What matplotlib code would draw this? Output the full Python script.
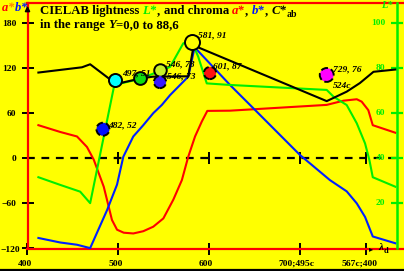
import matplotlib
matplotlib.use("Agg")
import matplotlib.pyplot as plt
import matplotlib.transforms as mtransforms

# pseudo wavelength axis: 400..700 nm, then compensative colours 495c..567c
x_ticks = [400, 500, 600, 700, 772.5]
x_ticklabels = ["400", "500", "600", "700;495c", "567c;400"]
y_ticks = [-120, -60, 0, 60, 120, 180]
L_ticks = [20, 40, 60, 80, 100]

# chroma C*ab
c_x = [412, 460, 469, 493, 502, 524, 538, 577, 583, 729.5, 751.5, 766, 781, 805]
c_val = [114, 121, 125, 103, 100, 106, 108.5, 109, 150, 76, 88.6, 100, 115, 118]

# a*
a_x = [412, 436, 454.5, 465.5, 473, 484, 493, 498.6, 506, 516.5, 527.5, 538.5,
       549.6, 560.6, 570, 577, 584.5, 592, 598, 623, 729.5, 748, 762.6, 768,
       775.3, 780.2, 805]
a_val = [44, 35, 29, 15, -2, -38, -82, -95, -99, -100, -97, -91,
         -80, -55, -29, 2, 29, 49, 63, 63.3, 71, 76.6, 78.5, 75.3,
         64, 44, 34]

# b*
b_x = [412, 436, 454.5, 469, 487.6, 498.6, 505.5, 516.5, 527.5, 538.5, 548,
       557, 568, 577, 583.4, 584.5, 623, 648.7, 700, 733, 751.5, 762.6,
       771.7, 780.2, 805]
b_val = [-106, -112, -115, -119.5, -69, -35, 2, 29, 44, 60, 71,
         84, 97.5, 108.5, 144, 147, 97.5, 66.5, 4.4, -29, -44, -60,
         -78, -104, -113]

# lightness L*
L_x = [412, 436, 458, 469, 495.6, 524, 557, 571.6, 581.2, 588, 597.4, 623,
       729.5, 737, 751.5, 762.6, 771.7, 776.5, 780.2, 805]
L_val = [31.6, 28.2, 25.2, 20.1, 72.5, 75.2, 80.5, 91, 91.5, 85, 73.2, 72.5,
         70.3, 67.3, 63.6, 55.5, 46.6, 39.2, 31.6, 27.4]

# colour samples
s_x = [496.9, 523.9, 545.9, 545.9, 581.5, 601, 483.1, 729.5]
s_y = [104, 106.8, 117.4, 101.4, 154.3, 113.4, 38.6, 110.8]
s_col = ["#00ffff", "#10dd10", "#c8f028", "#3818ff", "#ffff00", "#ff1010",
         "#0010ff", "#ff00ff"]
s_dashed = [False, False, False, True, False, True, True, True]
s_size = [9.4, 9.2, 9.0, 8.8, 10.8, 8.8, 9.4, 10.0]

labels = [("497, 51", 122, 73), ("546, 78", 166, 64), ("546, 73", 167, 76),
          ("581, 91", 198, 35), ("601, 87", 213, 66), ("482, 52", 108, 125),
          ("729, 76", 333, 69), ("524c", 333, 86)]

W, H = 404, 271
YEL = "#ffff00"
GRN = "#00ee00"
SERIF = "Liberation Serif"


def L_to_a(v):
    return 3 * (v - 40)


fig = plt.figure(figsize=(W / 100, H / 100), dpi=100, facecolor=YEL)
ax = fig.add_axes([27.5 / W, (H - 248.5) / H, (W - 27.5) / W, 245.5 / H])
ax.set_facecolor(YEL)
ax.set_xlim(400, 814.6)
ax.set_ylim(-120, 206.5)
for side in ["left", "bottom", "top"]:
    ax.spines[side].set_color("red")
    ax.spines[side].set_linewidth(1.6)
ax.spines["right"].set_visible(False)

ax.set_xticks(x_ticks)
ax.set_xticklabels([])
ax.set_yticks(y_ticks)
ax.set_yticklabels([str(v).replace("-", "\u2212") for v in y_ticks],
                   fontfamily=SERIF, fontweight="bold", fontsize=6.8)
ax.tick_params(axis="both", direction="inout", length=8, width=1.4, color="black")
ax.tick_params(axis="y", pad=4)
for lab in ax.get_yticklabels():
    if lab.get_text().startswith("\u2212120"):
        lab.set_transform(lab.get_transform() + mtransforms.ScaledTranslation(4 / 100, 0, fig.dpi_scale_trans))

# x labels placed by hand below the axis
for xv, s in zip(x_ticks, x_ticklabels):
    dx = -3 if xv < 770 else -6
    t = ax.text(xv, 0, s, transform=mtransforms.blended_transform_factory(ax.transData, ax.transAxes)
                + mtransforms.ScaledTranslation(dx / 100, -15 / 100, fig.dpi_scale_trans),
                ha="center", va="center", fontfamily=SERIF, fontweight="bold", fontsize=6.8)

# zero line with ticks
ax.plot([400, 806.9], [0, 0], color="black", lw=1.6, ls=(0, (3.5, 3)), zorder=2)
ax.plot(x_ticks[1:], [0] * 4, ls="none", marker="|", ms=8, mew=1.4, color="black", zorder=2)

# curves
ax.plot(a_x, a_val, color="red", lw=1.5, zorder=3)
ax.plot(b_x, b_val, color="#0020ff", lw=1.5, zorder=3)
ax.plot(L_x, [L_to_a(v) for v in L_val], color=GRN, lw=1.5, zorder=3)
ax.plot(c_x, c_val, color="black", lw=1.5, zorder=4)

# samples
for x, y, c, d, s in zip(s_x, s_y, s_col, s_dashed, s_size):
    ax.scatter([x], [y], s=s ** 2, c=c, edgecolors="black",
               linewidths=1.4, linestyle="--" if d else "-", zorder=5)

for s, px, py in labels:
    fig.text(px / W, 1 - py / H, s, fontfamily=SERIF, fontweight="bold",
             style="italic", fontsize=6.8, va="center", zorder=6)

# green L* axis
gx = 806.9
ax.plot([gx, gx], [-120, 206.5], color=GRN, lw=1.8, clip_on=False, zorder=3)
ax.plot([gx] * len(L_ticks), [L_to_a(v) for v in L_ticks], ls="none", marker="_",
        ms=8, mew=1.6, color=GRN, clip_on=False, zorder=3)
for v in L_ticks:
    ax.text(gx, L_to_a(v), str(v), color=GRN, fontfamily=SERIF, fontweight="bold",
            fontsize=6.8, ha="right", va="center",
            transform=ax.transData + mtransforms.ScaledTranslation(-12 / 100, 0, fig.dpi_scale_trans))
fig.text(381 / W, 1 - 5 / H, "L*", color=GRN, fontfamily=SERIF, fontweight="bold",
         style="italic", fontsize=7.5, va="center")

# left arrow
ax.annotate("", xy=(0, 1.0), xytext=(0, 0.96), xycoords="axes fraction",
            arrowprops=dict(arrowstyle="-|>", color="black", lw=1.2, mutation_scale=7))

# lambda_d marker
fig.text(369 / W, 1 - 249 / H, "\u25B8", fontsize=6, va="center", color="black")
fig.text(378 / W, 1 - 248 / H, "\u03bb", fontfamily=SERIF, style="italic",
         fontweight="bold", fontsize=8, va="center")
fig.text(384 / W, 1 - 251 / H, "d", fontfamily=SERIF, fontweight="bold",
         fontsize=6, va="center")

# bottom border line
fig.add_artist(plt.Line2D([0, 1], [1.2 / H, 1.2 / H], color="black", lw=1.6,
                          transform=fig.transFigure))

renderer = fig.canvas.get_renderer()


def put_parts(x_px, y_px, parts, size):
    # parts: text, colour, style, baseline shift, size, gap after (px)
    x = x_px
    for s, col, st, dy, sz, gap in parts:
        t = fig.text(x / W, 1 - (y_px + dy) / H, s, color=col, style=st,
                     fontfamily=SERIF, fontweight="bold", fontsize=sz or size,
                     va="baseline")
        bb = t.get_window_extent(renderer)
        x += bb.width + gap


put_parts(2, 11, [("a", "red", "italic", 0, None, 0), ("*", "#ff8000", "italic", 0, None, 0),
                  ("b", "#0010ff", "italic", 0, None, 0), ("*", "#0010ff", "italic", 0, None, 0)], 9)

sp = 3.2
put_parts(40, 14, [("CIELAB lightness", "black", "normal", 0, None, sp),
                   ("L*", GRN, "italic", 0, None, 0.5),
                   (",", "black", "normal", 0, None, sp),
                   ("and chroma", "black", "normal", 0, None, sp),
                   ("a*", "red", "italic", 0, None, 0.5),
                   (",", "black", "normal", 0, None, sp),
                   ("b*", "#0010ff", "italic", 0, None, 0.5),
                   (",", "black", "normal", 0, None, sp),
                   ("C*", "black", "italic", 0, None, 0.5),
                   ("ab", "black", "normal", 3, 7, 0)], 9.2)
put_parts(40, 28, [("in the range", "black", "normal", 0, None, sp),
                   ("Y", "black", "italic", 0, None, 0.5),
                   ("=0,0 to 88,6", "black", "normal", 0, None, 0)], 9.2)

fig.savefig("out.png", dpi=100, facecolor=YEL)
